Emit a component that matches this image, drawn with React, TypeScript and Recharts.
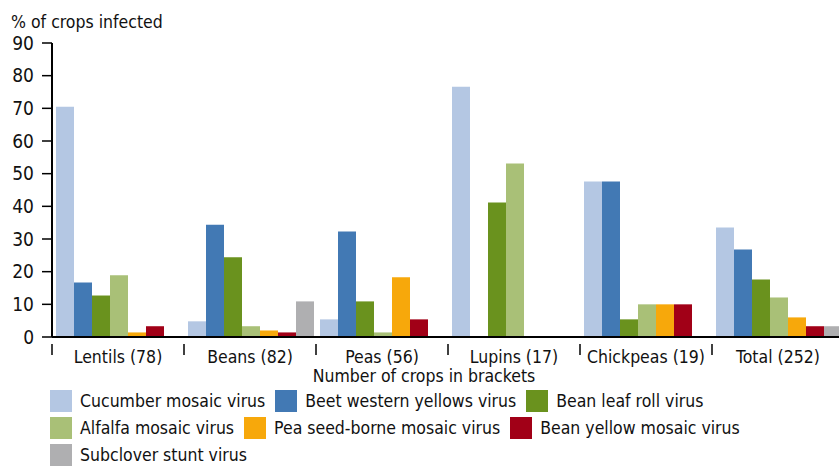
import React from 'react';
import { BarChart, Bar, XAxis, YAxis, Legend } from 'recharts';

const crops = ['Lentils (78)', 'Beans (82)', 'Peas (56)', 'Lupins (17)', 'Chickpeas (19)', 'Total (252)'];

const cucumber = [70.5, 4.8, 5.4, 76.6, 47.6, 33.5];
const beetWestern = [16.7, 34.4, 32.3, 0, 47.6, 26.8];
const beanLeafRoll = [12.7, 24.4, 10.9, 41.2, 5.4, 17.6];
const alfalfa = [18.9, 3.3, 1.4, 53.1, 10.0, 12.1];
const peaSeedBorne = [1.4, 2.0, 18.3, 0, 10.0, 6.0];
const beanYellow = [3.3, 1.4, 5.4, 0, 10.0, 3.3];
const subclover = [0, 10.9, 0, 0, 0, 3.3];

const yTicks = [0, 10, 20, 30, 40, 50, 60, 70, 80, 90];

const SERIES = [
  { key: 'cmv', name: 'Cucumber mosaic virus', color: '#b4c7e3', values: cucumber },
  { key: 'bwyv', name: 'Beet western yellows virus', color: '#4279b4', values: beetWestern },
  { key: 'blrv', name: 'Bean leaf roll virus', color: '#6a921e', values: beanLeafRoll },
  { key: 'amv', name: 'Alfalfa mosaic virus', color: '#a9c077', values: alfalfa },
  { key: 'psbmv', name: 'Pea seed-borne mosaic virus', color: '#f7a80b', values: peaSeedBorne },
  { key: 'bymv', name: 'Bean yellow mosaic virus', color: '#a10017', values: beanYellow },
  { key: 'sbsv', name: 'Subclover stunt virus', color: '#afafb1', values: subclover },
];

const data = crops.map((crop, i) => {
  const row: Record<string, string | number> = { crop };
  SERIES.forEach(s => { row[s.key] = s.values[i]; });
  return row;
});

const FONT = "'Liberation Sans Narrow', 'DejaVu Sans Condensed', 'Arial Narrow', sans-serif";

const CropTick = (props: any) => {
  const { x, y, payload } = props;
  const half = payload && payload.offset ? payload.offset : 66;
  return (
    <g>
      <line x1={x - half} y1={y - 1} x2={x - half} y2={y + 10} stroke="#000" strokeWidth={1.5} />
      <text x={x} y={y + 18} textAnchor="middle" fontSize={17.5} fontFamily={FONT} fill="#111">
        {payload.value}
      </text>
    </g>
  );
};

const LegendBox = () => (
  <div style={{ display: 'flex', flexWrap: 'wrap', width: 760, fontFamily: FONT, fontSize: 17.5, color: '#111' }}>
    {SERIES.map(s => (
      <div key={s.key} style={{ display: 'flex', alignItems: 'center', height: 27, marginRight: 10 }}>
        <span style={{ display: 'inline-block', width: 22, height: 22, background: s.color, marginRight: 8 }} />
        <span>{s.name}</span>
      </div>
    ))}
  </div>
);

export default function App() {
  return (
    <div style={{ position: 'absolute', left: 0, top: 0, width: 839, height: 466, overflow: 'hidden', background: '#fff' }}>
      <BarChart
        width={850}
        height={466}
        data={data}
        margin={{ top: 43, right: 6, left: 0, bottom: 0 }}
        barCategoryGap={4}
        barGap={0}
      >
        <XAxis
          dataKey="crop"
          height={50}
          axisLine={{ stroke: '#000', strokeWidth: 2 }}
          tickLine={false}
          tick={<CropTick />}
          interval={0}
          label={{
            content: (p: any) => {
              const vb = p.viewBox;
              return (
                <text x={vb.x + vb.width / 2 - 24} y={vb.y + 45} textAnchor="middle" fontSize={17.5} fontFamily={FONT} fill="#111">
                  Number of crops in brackets
                </text>
              );
            },
          }}
        />
        <YAxis
          width={52}
          domain={[0, 90]}
          ticks={yTicks}
          interval={0}
          axisLine={{ stroke: '#000', strokeWidth: 2 }}
          tickLine={{ stroke: '#000', strokeWidth: 1.5 }}
          tickSize={10}
          tickMargin={8}
          tick={{ fontSize: 19, fontFamily: FONT, fill: '#111' }}
          label={{
            content: () => (
              <text x={11} y={28} fontSize={17.5} fontFamily={FONT} fill="#111">
                % of crops infected
              </text>
            ),
          }}
        />
        <Legend
          verticalAlign="bottom"
          content={<LegendBox />}
          wrapperStyle={{ left: 50, width: 780, height: 79, bottom: 0 }}
        />
        {SERIES.map(s => (
          <Bar key={s.key} dataKey={s.key} name={s.name} fill={s.color} isAnimationActive={false} />
        ))}
      </BarChart>
    </div>
  );
}
